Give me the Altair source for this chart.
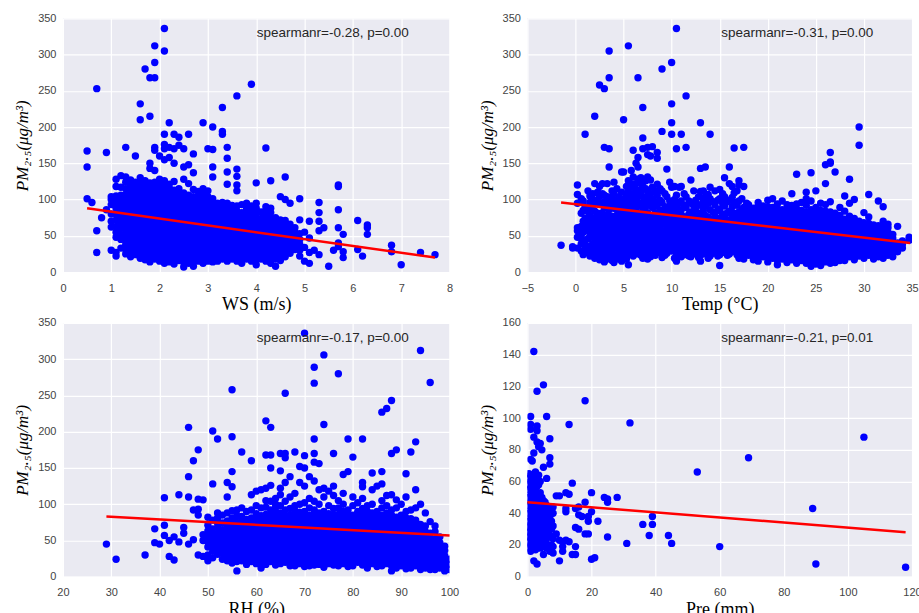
import altair as alt
import pandas as pd

# ---------------- data ----------------
# Each key is an x value, each string lists the PM2.5 values seen at that x.
WS_COLS = {
    "0.5": "101 145 167", "0.6": "96", "0.7": "27 57 253", "0.8": "75", "0.9": "86 165",
    "1.0": "30 62 70 80 93 100 104",
    "1.1": "22 27 48 55 63 72 80 88 97 105 118 128",
    "1.2": "33 45 52 61 69 76 84 91 99 106 117 133",
    "1.3": "25 31 38 44 49 57 63 71 79 86 93 100 107 115 124 131 172",
    "1.4": "21 27 34 41 46 53 60 67 74 81 88 95 103 110 118 127",
    "1.5": "24 30 37 44 50 56 63 70 77 84 90 97 104 111 117 124 160",
    "1.6": "19 26 32 39 45 52 59 66 72 79 86 93 100 107 114 121 130 210 232",
    "1.7": "17 23 30 36 43 50 56 63 70 76 83 90 97 104 111 118 126 280",
    "1.8": "14 20 27 34 41 48 55 61 68 75 82 89 96 103 110 117 123 143 150 215 268",
    "1.9": "18 24 31 37 44 51 57 64 71 78 85 92 99 106 113 119 124 140 168 172 268 289 312",
    "2.0": "15 21 28 35 42 48 55 62 69 76 83 89 96 103 110 117 124 128 160",
    "2.1": "12 18 25 32 38 45 52 59 66 72 79 86 93 100 107 114 121 126 155 170 176 190 305 336",
    "2.2": "14 20 27 34 41 47 54 61 68 75 82 88 95 102 109 116 121 158 172 206",
    "2.3": "11 17 24 30 37 44 51 58 64 71 78 85 92 99 106 113 125 150 170 190",
    "2.4": "16 22 29 36 42 49 56 63 70 77 83 90 97 104 110 115 175 186",
    "2.5": "7 13 19 26 33 40 46 53 60 67 74 81 88 95 102 109 128 145 170",
    "2.6": "12 18 25 31 38 45 52 59 66 72 79 86 93 100 106 122 148 190",
    "2.7": "8 15 21 28 35 42 49 55 62 69 76 83 90 97 104 114 137 163",
    "2.8": "15 21 28 35 41 48 55 62 69 76 83 89 97 105 111",
    "2.9": "12 18 25 32 39 46 53 59 66 73 80 87 94 100 106 115 206",
    "3.0": "15 22 28 35 42 49 56 63 70 76 83 90 96 104 112 170",
    "3.1": "14 20 27 34 41 48 54 61 68 75 82 88 95 101 131 145 169 200",
    "3.2": "15 21 28 35 42 49 56 62 69 76 83 89 95",
    "3.3": "18 24 31 38 45 52 58 65 72 79 86 92 96 190 194 227",
    "3.4": "15 22 29 36 43 49 56 63 70 77 84 90 95 121 138 157 172",
    "3.5": "18 25 32 38 45 52 59 66 73 80 87 92",
    "3.6": "15 21 28 35 42 49 56 63 70 77 84 91 112 120 132 142 243",
    "3.7": "12 19 26 33 40 47 54 61 68 75 82 93",
    "3.8": "18 25 32 39 45 52 59 66 73 80 87 95",
    "3.9": "15 22 29 36 43 50 57 64 71 78 85 91 259",
    "4.0": "10 18 25 32 39 46 53 60 67 74 81 88 95 123",
    "4.1": "18 25 32 39 46 53 60 67 74 83",
    "4.2": "15 22 29 36 43 50 57 64 71 78 85 90 171",
    "4.3": "12 19 26 33 40 47 54 61 68 75 82 88 126",
    "4.4": "8 18 25 32 39 46 53 60 67 75",
    "4.5": "16 23 30 37 44 51 58 65 72 104",
    "4.6": "21 28 35 42 49 56 63 71 100 131",
    "4.7": "26 34 42 50 58 66 95",
    "4.8": "31 39 47 55 61",
    "4.9": "22 30 38 45 53 72 101",
    "5.0": "15 34 55", "5.1": "12 27 47 70", "5.2": "30", "5.3": "24 57 70 82 96",
    "5.4": "61", "5.5": "8", "5.6": "30", "5.7": "35 40 61 86 118 120", "5.8": "20 28 52",
    "6.1": "31 71", "6.2": "22", "6.3": "52 61 65", "6.8": "28 37", "7.0": "10",
    "7.4": "27", "7.7": "24",
}

TEMP_COLS = {
    "-1.5": "37", "-0.3": "33 35",
    "0.2": "33 48 57 61 95 107 120",
    "0.6": "29 39 47 52 63 81 101",
    "0.8": "24 41 55 70 85 98",
    "1.0": "27 36 44 57 66 74 90 190",
    "1.3": "33 46 59 69 83 112",
    "1.5": "22 30 36 49 55 61 78 88 96 105",
    "1.8": "28 39 52 63 72 92 108",
    "2.0": "19 25 31 43 49 55 67 75 84 99 122 215",
    "2.3": "21 35 45 58 69 81 97 110",
    "2.5": "17 23 28 41 47 53 64 72 79 94 104 118 258",
    "2.8": "25 33 46 56 66 82 93 108 122",
    "3.0": "14 20 26 37 44 50 61 69 76 89 97 106 172 253",
    "3.3": "18 30 41 53 62 78 95 104 122",
    "3.5": "21 27 33 39 44 58 64 71 86 92 99 145 170 268 305",
    "3.8": "16 28 39 51 63 77 93 104 112",
    "4.0": "13 18 23 36 42 47 59 66 73 88 97 109 124",
    "4.3": "24 33 46 52 62 78 86 99 115",
    "4.5": "18 29 35 42 49 56 67 74 81 94 104",
    "4.8": "15 24 38 46 59 72 88 97 110 138",
    "5.0": "20 27 34 41 47 53 64 70 77 84 91 100 138 210",
    "5.3": "18 29 35 45 57 66 81 98 105 118",
    "5.5": "10 24 31 38 44 49 62 69 76 87 94 111 126 312",
    "5.8": "27 37 44 55 63 75 91 103 122 140",
    "6.0": "22 34 40 47 52 58 71 78 84 99 108 117 131 168",
    "6.3": "25 39 50 57 65 77 88 94 110 122 150",
    "6.5": "31 37 43 54 60 67 74 81 96 104 113 128 145 158 268",
    "6.8": "23 38 50 58 70 79 92 110 122 130",
    "7.0": "19 27 34 47 54 61 67 73 87 95 104 118 125 170 185 227",
    "7.3": "29 40 48 60 66 77 90 100 115 126",
    "7.5": "18 25 31 44 51 57 63 69 82 96 104 111 131 162 172",
    "7.8": "21 36 46 55 60 78 92 108 127 160",
    "8.0": "26 33 39 51 57 63 68 74 89 101 117 173",
    "8.3": "23 37 45 60 70 82 97 112",
    "8.5": "28 35 41 48 54 66 72 77 91 106 121 157 165",
    "8.8": "31 38 51 61 69 85 99 115",
    "9.0": "20 27 33 46 52 57 71 77 83 96 112 194 280",
    "9.3": "23 36 43 54 66 80 90 108",
    "9.5": "26 31 37 49 55 63 69 76 89 104 142",
    "9.8": "32 40 53 59 72 84 98 124",
    "10.0": "29 36 43 49 56 62 67 81 87 94 117 190 206 232 289",
    "10.3": "19 30 38 50 58 75 86 100 118",
    "10.5": "15 22 27 33 41 47 53 64 71 79 92 106 170 336",
    "10.8": "25 31 44 50 57 68 83 95 117",
    "11.0": "21 28 34 41 47 54 61 72 79 86 98 118 190",
    "11.3": "27 37 44 58 66 76 92 108",
    "11.5": "24 31 39 45 51 57 62 69 76 89 104 172 243",
    "11.8": "22 35 42 55 66 73 80 98",
    "12.0": "21 31 38 46 52 57 63 69 76 83 95 127",
    "12.3": "28 35 42 54 60 72 79 91 112",
    "12.5": "25 32 38 44 49 56 63 69 74 87 99",
    "12.8": "20 29 35 47 59 66 78 93 104",
    "13.0": "15 23 29 36 43 48 54 61 67 74 81 92 111 143 206",
    "13.3": "25 32 39 51 57 70 85 98 112",
    "13.5": "28 34 41 47 52 58 64 71 78 91 104 145",
    "13.8": "19 31 38 45 55 63 76 95 107",
    "14.0": "22 28 34 41 48 53 59 66 73 86 101 117 190",
    "14.3": "26 35 45 52 64 70 83 97",
    "14.5": "31 37 42 49 56 61 67 73 79 93 112",
    "14.8": "22 34 40 53 59 71 85 99",
    "15.0": "9 24 31 37 44 51 56 62 68 74 87 101 114",
    "15.3": "27 35 48 58 65 80 95 108",
    "15.5": "28 34 41 47 53 59 66 71 77 91 104 130",
    "15.8": "23 32 38 50 63 70 82 97",
    "16.0": "25 31 36 42 47 54 61 67 72 84 99 122 145",
    "16.3": "28 40 46 57 64 77 90 103 118",
    "16.5": "31 37 43 49 54 61 68 74 81 96 109 171",
    "16.8": "24 34 41 51 59 66 78 92 112",
    "17.0": "19 26 32 39 46 52 57 64 71 77 83 98 120 126",
    "17.3": "22 30 37 44 56 62 75 86 101",
    "17.5": "18 24 29 35 41 47 53 58 64 71 78 89 118 172",
    "17.8": "26 33 40 50 60 68 80 95",
    "18.0": "23 29 35 42 48 54 61 67 73 79 85 93",
    "18.5": "17 24 30 36 43 49 55 62 68 74 81 88",
    "19.0": "15 21 27 34 40 47 53 59 65 72 78 84 91 96",
    "19.5": "21 27 33 39 46 52 58 64 71 77 83 91",
    "20.0": "14 20 27 33 39 45 52 58 64 71 77 83 90 99",
    "20.5": "19 25 31 38 44 50 57 63 69 75 81 89 101",
    "21.0": "10 16 23 29 35 41 48 54 61 67 73 80 87 94",
    "21.5": "18 24 30 36 43 49 55 61 68 74 80 86 98",
    "22.0": "13 19 25 32 38 44 50 57 63 69 76 82 88 93",
    "22.5": "17 23 29 35 42 48 54 60 67 73 79 85 92 108",
    "23.0": "12 18 24 31 37 43 49 56 62 68 75 81 87 94 135",
    "23.5": "16 22 28 34 41 47 53 60 66 72 79 85 96",
    "24.0": "12 18 24 30 37 43 49 56 62 68 75 83 92 101 110",
    "24.5": "8 15 21 27 33 40 46 52 59 65 71 78 86 98 137",
    "25.0": "11 17 23 30 36 42 49 55 61 67 74 80 89 112",
    "25.5": "9 16 22 28 35 41 47 53 60 66 72 79 85 95",
    "26.0": "14 20 26 33 39 45 51 58 64 70 77 84 93 122 148",
    "26.5": "12 18 24 31 37 43 50 56 62 68 75 83 97 150 152 165",
    "27.0": "13 19 25 31 38 44 50 57 63 69 76 81 138",
    "27.5": "16 22 28 35 41 47 54 60 66 72 78 89",
    "28.0": "16 22 28 34 41 47 53 60 66 73 84 105",
    "28.5": "21 27 33 40 46 52 58 65 71 77 95 128",
    "29.0": "17 23 29 36 42 48 55 61 67 74 100",
    "29.5": "22 28 34 41 47 53 60 66 70 175 200",
    "30.0": "19 25 31 37 44 50 57 63 68 82",
    "30.5": "23 29 35 42 48 54 61 67 76 107",
    "31.0": "18 24 30 36 43 49 55 62 65",
    "31.5": "21 27 33 40 46 52 58 64 98",
    "32.0": "19 25 31 38 44 50 57 63 70 90",
    "32.5": "23 29 35 42 48 55 61 66",
    "33.0": "21 27 34 41 47 52",
    "33.5": "28 34 40 63",
    "34.0": "33 38 43",
    "34.7": "44 48",
}

RH_COLS = {
    "29": "45", "31": "24", "37": "30", "39": "47 66", "40": "45", "41": "57 71 109",
    "42": "28 50", "43": "23 55", "44": "48 113", "45": "60 68", "46": "45 110 138 206",
    "47": "51 92 160", "48": "30 85 93 107 175", "49": "28 50 58 106",
    "50": "22 30 41 48 56 63 71 82",
    "51": "26 35 42 49 54 60 66 78 128 201",
    "52": "31 38 45 51 59 68 74 81 88 190",
    "53": "24 33 39 46 52 58 65 74 85",
    "54": "22 29 35 42 50 56 63 69 77 88 110 130",
    "55": "19 26 33 40 47 53 60 67 74 81 91 124 145 193 258",
    "56": "8 21 28 35 42 49 55 62 69 75 84 92",
    "57": "22 29 36 42 49 56 63 70 77 83 95 172",
    "58": "17 24 31 38 45 52 58 65 72 79 90",
    "59": "21 27 34 41 48 55 62 68 75 81 92 113 160",
    "60": "18 24 31 38 45 52 58 65 72 79 87 98 118",
    "61": "12 20 27 34 41 48 55 62 68 75 84 95 120",
    "62": "17 24 31 37 44 51 58 65 72 79 86 96 105 122 168 215",
    "63": "21 28 35 42 49 56 63 70 77 84 92 104 126 150 168 206",
    "64": "16 23 30 37 44 51 58 65 72 79 86 95 100 108",
    "65": "18 25 32 39 46 53 60 67 74 81 88 98 113 122 146 170",
    "66": "20 27 34 41 48 55 62 69 76 83 92 104 130 164 170 253",
    "67": "15 22 29 36 43 50 57 64 71 78 85 94 110 138",
    "68": "15 22 28 35 42 49 56 63 70 77 84 91 98 115 172",
    "69": "18 25 32 39 46 53 60 67 74 81 89 100 130 152",
    "70": "14 21 28 35 42 49 56 63 70 77 84 90 102 125 150 167 336",
    "71": "15 22 29 36 43 50 57 64 71 78 85 95 108 138",
    "72": "16 23 30 37 44 51 58 65 72 79 86 92 104 132 158 170 190 267 289",
    "73": "17 24 31 38 45 52 59 66 73 80 88 100 120 156",
    "74": "13 20 27 34 41 48 55 62 69 76 83 90 110 122 210 306",
    "75": "18 25 32 39 46 53 60 67 74 81 87 98 118",
    "76": "16 23 30 37 44 51 58 65 72 79 86 94 112 125 170",
    "77": "15 22 29 36 43 50 57 64 71 78 86 95 105 280",
    "78": "18 25 32 39 46 53 60 67 74 81 90 100 115 141",
    "79": "14 21 28 35 42 49 56 63 70 77 84 92 145 190",
    "80": "15 22 29 36 43 50 57 64 71 78 85 98 110 165",
    "81": "20 27 34 41 48 55 62 69 76 83 90 102",
    "82": "16 23 30 37 44 51 58 65 72 79 86 94 108 124 130 190",
    "83": "12 19 26 33 40 47 54 61 68 75 82 90 98",
    "84": "18 25 32 39 46 53 60 67 74 81 88 100 120 143",
    "85": "14 21 28 35 42 49 56 63 70 77 84 90 125",
    "86": "15 22 29 36 43 50 57 64 71 78 85 95 105 128 145 227",
    "87": "18 25 32 39 46 53 60 67 74 81 88 98 112 232",
    "88": "8 15 22 29 36 43 50 57 64 71 78 85 92 113 170 243",
    "89": "12 19 26 33 40 47 54 61 68 75 82 95 106 175",
    "90": "15 22 29 36 43 50 57 64 71 78 85 100",
    "91": "11 18 25 32 39 46 53 60 67 74 81 90 110 142",
    "92": "12 19 26 33 40 47 54 61 68 75 80 92 172",
    "93": "15 22 29 36 43 50 57 64 71 78 95 120 186",
    "94": "10 17 24 31 38 45 52 59 66 72 100 312",
    "95": "12 19 26 33 40 47 54 62 70 88",
    "96": "10 17 24 31 38 45 52 60 76 268",
    "97": "10 17 24 31 38 45 52 62 70",
    "98": "12 19 26 33 40 47 55",
    "99": "8 15 22 29 36 42",
    "100": "10 17 24",
}

PRE_COLS = {
    "0.5": "18 22 25 28 31 35 40 45 50 55 58 62 65",
    "1": "16 20 24 27 30 33 37 42 47 52 56 60 64 74 93 96 101",
    "1.5": "18 21 26 29 34 38 43 48 53 57 61 73",
    "2": "10 19 23 27 31 36 40 45 50 54 59 63 78 88 142",
    "2.5": "17 22 26 30 35 39 44 49 55 60 66",
    "3": "8 20 24 28 32 37 41 46 51 57 62 85 92 95 117",
    "3.5": "19 23 27 33 38 43 48 52 58 64 82",
    "4": "18 22 28 34 39 44 49 53 60 84",
    "4.5": "20 25 31 36 41 46 50 80",
    "5": "14 19 24 29 35 40 45 48 69 121",
    "5.5": "22 27 33 38 42 47",
    "6": "18 24 30 36 41 45 62 101",
    "6.5": "20 28 34 40 44",
    "7": "16 26 32 38 43 71 75 87",
    "7.5": "20 30 35 42",
    "8": "15 19 24 32 40 44",
    "9": "27 51", "10": "10 23 51", "11": "16 19 22", "12": "23 41 43 53",
    "13": "22 52 96", "14": "14 59", "15": "14 19 31 43", "16": "30 39 44",
    "17": "38", "18": "27 47 111", "19": "27 35 38", "20": "11 41 53", "21": "12",
    "22": "35", "24": "50", "25": "25 47 49", "28": "50", "31": "21", "32": "97",
    "36": "33", "38": "26", "39": "33 38", "44": "26", "45": "21", "53": "66",
    "60": "19", "69": "75", "89": "43", "90": "8", "105": "88", "118": "6",
}

# fitted regression lines (end points)
WS_FIT_X, WS_FIT_Y = [0.5, 7.7], [88, 20]
TEMP_FIT_X, TEMP_FIT_Y = [-1.5, 34.8], [96, 40]
RH_FIT_X, RH_FIT_Y = [29, 100], [83, 57]
PRE_FIT_X, PRE_FIT_Y = [0, 118], [47, 28]

LABELS = ["spearmanr=-0.28, p=0.00", "spearmanr=-0.31, p=0.00",
          "spearmanr=-0.17, p=0.00", "spearmanr=-0.21, p=0.01"]
X_TITLES = ["WS (m/s)", "Temp (°C)", "RH (%)", "Pre (mm)"]
Y_TITLE = "PM₂.₅(μg/m³)"

WS_TICKS = [0, 1, 2, 3, 4, 5, 6, 7, 8]
TEMP_TICKS = [-5, 0, 5, 10, 15, 20, 25, 30, 35]
RH_TICKS = [20, 30, 40, 50, 60, 70, 80, 90, 100]
PRE_TICKS = [0, 20, 40, 60, 80, 100, 120]
PM_TICKS = [0, 50, 100, 150, 200, 250, 300, 350]
PM_TICKS_PRE = [0, 20, 40, 60, 80, 100, 120, 140, 160]


def expand(cols):
    xs, ys = [], []
    for k, v in cols.items():
        for s in v.split():
            xs.append(float(k))
            ys.append(float(s))
    return pd.DataFrame({"x": xs, "y": ys})


def panel(cols, fx, fy, label, xticks, xtitle, yticks, w, h):
    xs = alt.Scale(domain=[xticks[0], xticks[-1]], nice=False, zero=False)
    ys = alt.Scale(domain=[yticks[0], yticks[-1]], nice=False, zero=False)
    xax = alt.Axis(values=xticks, tickCount=len(xticks), title=xtitle,
                   labelOverlap=False, labelFlush=False)
    yax = alt.Axis(values=yticks, tickCount=len(yticks), title=Y_TITLE,
                   labelOverlap=False, labelFlush=False)
    pts = alt.Chart(expand(cols)).mark_circle(
        size=55, color="#0000FF", opacity=1, clip=True
    ).encode(
        x=alt.X("x:Q", scale=xs, axis=xax),
        y=alt.Y("y:Q", scale=ys, axis=yax),
    )
    line = alt.Chart(pd.DataFrame({"x": fx, "y": fy})).mark_line(
        color="#FF0000", strokeWidth=2.5
    ).encode(x=alt.X("x:Q", scale=xs, axis=xax), y=alt.Y("y:Q", scale=ys, axis=yax))
    txt = alt.Chart(pd.DataFrame({"t": [label]})).mark_text(
        align="left", baseline="middle", fontSize=13.5, font="Liberation Sans",
        color="#262626"
    ).encode(x=alt.value(194), y=alt.value(15), text="t:N")
    return alt.layer(pts, line, txt).properties(width=w, height=h)


p1 = panel(WS_COLS, WS_FIT_X, WS_FIT_Y, LABELS[0], WS_TICKS, X_TITLES[0], PM_TICKS, 387, 254)
p2 = panel(TEMP_COLS, TEMP_FIT_X, TEMP_FIT_Y, LABELS[1], TEMP_TICKS, X_TITLES[1], PM_TICKS, 385, 254)
p3 = panel(RH_COLS, RH_FIT_X, RH_FIT_Y, LABELS[2], RH_TICKS, X_TITLES[2], PM_TICKS, 387, 254)
p4 = panel(PRE_COLS, PRE_FIT_X, PRE_FIT_Y, LABELS[3], PRE_TICKS, X_TITLES[3], PM_TICKS_PRE, 385, 254)

chart = alt.vconcat(
    alt.hconcat(p1, p2, spacing=24),
    alt.hconcat(p3, p4, spacing=18),
    spacing=3,
).properties(
    padding={"left": 13, "top": 12, "right": -3, "bottom": 0}
).configure_view(
    fill="#EAEAF2", stroke=None
).configure_axis(
    grid=True, gridColor="#FFFFFF", gridWidth=1.2, domain=False, ticks=False,
    labelFont="Liberation Sans", labelFontSize=11, labelColor="#444444",
    labelPadding=10, titleFont="Liberation Serif", titleFontSize=18,
    titleFontWeight="normal", titleColor="#000000", titlePadding=3,
).configure_axisY(
    labelPadding=7, titleFontStyle="italic", titleFontSize=17, titlePadding=6
)

chart.save("out.html", embed_options={"renderer": "svg", "actions": False})
